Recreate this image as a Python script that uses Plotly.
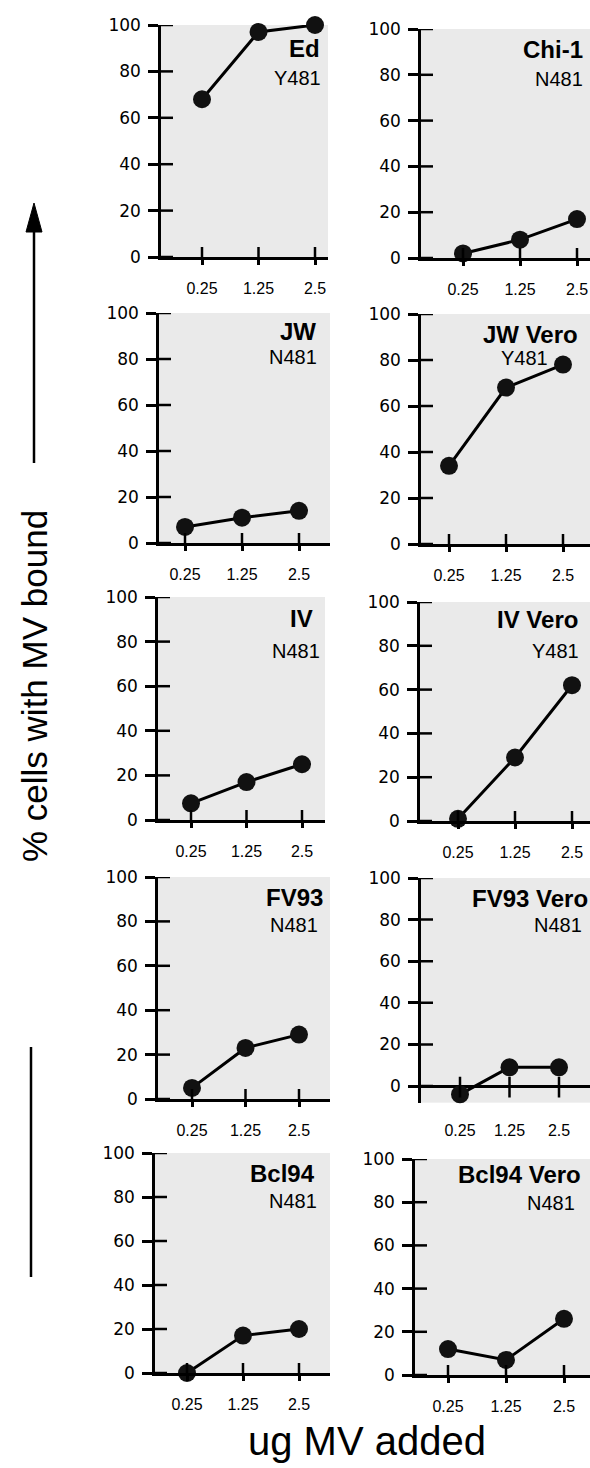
import plotly.graph_objects as go

W, H = 590, 1468

# ---------------- data ----------------
panel_names = ["Ed", "Chi-1", "JW", "JW Vero", "IV", "IV Vero",
               "FV93", "FV93 Vero", "Bcl94", "Bcl94 Vero"]
residues = ["Y481", "N481", "N481", "Y481", "N481", "Y481",
            "N481", "N481", "N481", "N481"]
doses = ["0.25", "1.25", "2.5"]

ed = [68, 97, 100]
chi1 = [2, 8, 17]
jw = [7, 11, 14]
jw_vero = [34, 68, 78]
iv = [7.5, 17, 25]
iv_vero = [1, 29, 62]
fv93 = [5, 23, 29]
fv93_vero = [-4, 9, 9]
bcl94 = [0, 17, 20]
bcl94_vero = [12, 7, 26]
series = [ed, chi1, jw, jw_vero, iv, iv_vero, fv93, fv93_vero, bcl94, bcl94_vero]

y_ticks = [0, 20, 40, 60, 80, 100]
y_mins = [0, 0, 0, 0, 0, 0, 0, -8, 0, 0]

# ---------------- layout geometry (pixels) ----------------
# L: y-axis x, R: right edge, T: y=100 px, Z: y=0 px, x0/x2: first/last x tick px
geom = [
    (161, 328, 25, 257, 202, 315),
    (421, 590, 29, 258, 463, 577),
    (159, 330, 313, 543, 185, 299),
    (421, 590, 314, 544, 449, 563),
    (158, 325, 597, 820, 191, 302),
    (420, 590, 602, 821, 458, 572),
    (158, 330, 877, 1099, 192, 299),
    (421, 590, 878, 1086, 460, 559),
    (155, 330, 1153, 1373, 187, 299),
    (415, 590, 1159, 1375, 448, 564),
]
# title right px, title baseline px, subtitle right px, subtitle baseline px
title_pos = [
    (322, 57, 323, 85), (585, 58, 585, 86),
    (318, 340, 319, 364), (580, 343, 550, 365),
    (315, 627, 322, 658), (580, 628, 581, 658),
    (325, 906, 320, 932), (590, 907, 584, 932),
    (317, 1182, 319, 1208), (583, 1183, 577, 1210),
]

TITLE_SIZE = 24
SUB_SIZE = 20
AX_W = 2.5

fig = go.Figure()
layout = dict(
    width=W, height=H,
    margin=dict(l=0, r=0, t=0, b=0, pad=0, autoexpand=False),
    paper_bgcolor="white",
    plot_bgcolor="#eaeaea",
    showlegend=False,
    font=dict(family="Liberation Sans, Arial, sans-serif", color="black"),
)
shapes = []
annotations = []

for i, (L, R, T, Z, x0, x2) in enumerate(geom):
    n = i + 1
    xid = "x" if n == 1 else f"x{n}"
    yid = "y" if n == 1 else f"y{n}"
    ymin = y_mins[i]
    sx = (x2 - x0) / 2.0
    xr = [(L - x0) / sx, (R - x0) / sx]
    unit = (Z - T) / 100.0
    bottom = Z + unit * (-ymin)
    xa = "xaxis" if n == 1 else f"xaxis{n}"
    ya = "yaxis" if n == 1 else f"yaxis{n}"
    normal = ymin == 0
    layout[xa] = dict(
        domain=[L / W, R / W], range=xr, anchor=yid, automargin=False,
        tickmode="array", tickvals=[0, 1, 2], ticktext=doses,
        showline=normal, linecolor="black", linewidth=AX_W,
        ticks="outside" if normal else "", ticklen=5, tickwidth=AX_W,
        tickcolor="black", showgrid=False, zeroline=False,
        tickfont=dict(family="Liberation Sans, Arial", size=16, color="black"),
        ticklabelstandoff=10 if normal else 16,
        fixedrange=True,
    )
    layout[ya] = dict(
        domain=[1 - bottom / H, 1 - T / H], range=[ymin, 100], anchor=xid,
        automargin=False,
        tickmode="array", tickvals=y_ticks,
        showline=True, linecolor="black", linewidth=AX_W,
        ticks="outside", ticklen=10, tickwidth=AX_W, tickcolor="black",
        showgrid=False,
        zeroline=not normal, zerolinecolor="black", zerolinewidth=AX_W,
        tickfont=dict(family="DejaVu Sans", size=17, color="black"),
        ticklabelstandoff=4,
        fixedrange=True,
    )
    fig.add_trace(go.Scatter(
        x=[0, 1, 2], y=series[i], xaxis=xid, yaxis=yid,
        mode="lines+markers",
        line=dict(color="black", width=3),
        marker=dict(color="#111111", size=18),
        cliponaxis=False, hoverinfo="skip",
    ))
    # inside parts of the crossing y ticks
    for v in y_ticks:
        shapes.append(dict(type="line", xref=f"{xid} domain", yref=yid,
                           x0=0, x1=12.0 / (R - L), y0=v, y1=v,
                           line=dict(color="black", width=AX_W)))
    # inside parts of the x ticks
    for k in range(3):
        if normal:
            shapes.append(dict(type="line", xref=xid, yref=f"{yid} domain",
                               x0=k, x1=k, y0=0, y1=10.0 / (bottom - T),
                               line=dict(color="black", width=AX_W)))
        else:
            shapes.append(dict(type="line", xref=xid, yref=yid,
                               x0=k, x1=k, y0=-5.5, y1=4.5,
                               line=dict(color="black", width=AX_W)))
    # panel titles
    tx, tb, sxp, sb = title_pos[i]
    annotations.append(dict(
        text=f"<b>{panel_names[i]}</b>", xref="paper", yref="paper",
        x=tx / W, y=1 - (tb - 0.35 * TITLE_SIZE) / H,
        xanchor="right", yanchor="middle", showarrow=False,
        font=dict(family="Liberation Sans, Arial", size=TITLE_SIZE, color="black")))
    annotations.append(dict(
        text=residues[i], xref="paper", yref="paper",
        x=sxp / W, y=1 - (sb - 0.35 * SUB_SIZE) / H,
        xanchor="right", yanchor="middle", showarrow=False,
        font=dict(family="Liberation Sans, Arial", size=SUB_SIZE, color="black")))

# common axis labels
annotations.append(dict(
    text="% cells with MV bound", xref="paper", yref="paper",
    x=34 / W, y=1 - 686 / H, textangle=-90,
    xanchor="center", yanchor="middle", showarrow=False,
    font=dict(family="Liberation Sans, Arial", size=35, color="black")))
annotations.append(dict(
    text="ug MV added", xref="paper", yref="paper",
    x=367 / W, y=1 - 1441 / H,
    xanchor="center", yanchor="middle", showarrow=False,
    font=dict(family="Liberation Sans, Arial", size=40, color="black")))

# arrow above the y label and the line below it
shapes.append(dict(type="line", xref="paper", yref="paper",
                   x0=34 / W, x1=34 / W, y0=1 - 463 / H, y1=1 - 226 / H,
                   line=dict(color="black", width=2.5)))
shapes.append(dict(type="path", xref="paper", yref="paper",
                   path=f"M {34/W},{1-203/H} L {26/W},{1-232/H} L {42/W},{1-232/H} Z",
                   fillcolor="black", line=dict(color="black", width=1)))
shapes.append(dict(type="line", xref="paper", yref="paper",
                   x0=31 / W, x1=31 / W, y0=1 - 1047 / H, y1=1 - 1277 / H,
                   line=dict(color="black", width=2.5)))

layout["shapes"] = shapes
layout["annotations"] = annotations
fig.update_layout(**layout)
fig.write_html(
    "out.html",
    config={"displayModeBar": False},
    post_script="document.body.style.margin='0px';document.body.style.overflow='hidden';",
)
